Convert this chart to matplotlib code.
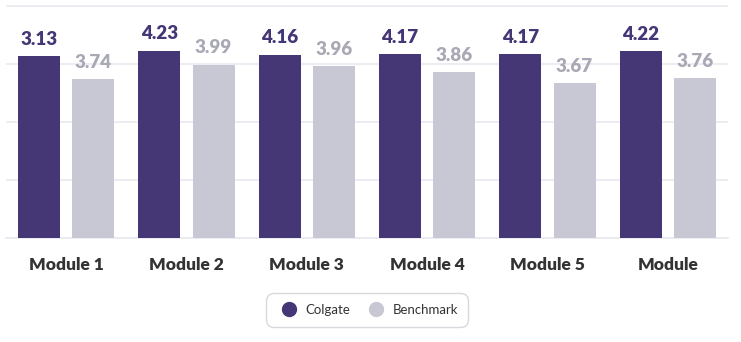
import matplotlib
matplotlib.use("Agg")
import matplotlib.pyplot as plt
import numpy as np
from matplotlib.lines import Line2D

plt.rcParams["font.family"] = ["Lato", "DejaVu Sans"]

# Data
modules = ["Module 1", "Module 2", "Module 3", "Module 4", "Module 5", "Module"]
colgate = [4.13, 4.23, 4.16, 4.17, 4.17, 4.22]
benchmark = [3.74, 3.99, 3.96, 3.86, 3.67, 3.76]
colgate_labels = ["3.13", "4.23", "4.16", "4.17", "4.17", "4.22"]
benchmark_labels = ["3.74", "3.99", "3.96", "3.86", "3.67", "3.76"]

COLGATE_C = "#453776"
BENCH_C = "#c8c8d4"
BENCH_TXT = "#a9a9b6"
GRID_C = "#e9e9f0"

fig = plt.figure(figsize=(7.41, 3.42), dpi=100)
ax = fig.add_axes([6 / 741, (342 - 238) / 342, 722 / 741, 234 / 342])

x = np.arange(len(modules))
w = 0.35
off = 0.225

b1 = ax.bar(x - off, colgate, width=w, color=COLGATE_C, zorder=3)
b2 = ax.bar(x + off, benchmark, width=w, color=BENCH_C, zorder=3)

for rect, lab in zip(b1, colgate_labels):
    ax.annotate(lab, (rect.get_x() + rect.get_width() / 2, rect.get_height()),
                xytext=(0, 6), textcoords="offset points", ha="center", va="bottom",
                fontsize=13.5, fontweight="heavy", color=COLGATE_C)
for rect, lab in zip(b2, benchmark_labels):
    ax.annotate(lab, (rect.get_x() + rect.get_width() / 2, rect.get_height()),
                xytext=(0, 6), textcoords="offset points", ha="center", va="bottom",
                fontsize=13.5, fontweight="heavy", color=BENCH_TXT)

ax.set_ylim(1, 5 + 2 / 58)
ax.set_xlim(-0.5, len(modules) - 0.5)
ax.set_yticks([1, 2, 3, 4, 5])
ax.yaxis.grid(True, color=GRID_C, linewidth=1.2, zorder=0)
ax.tick_params(axis="y", left=False, labelleft=False)
ax.tick_params(axis="x", length=0, pad=14)
ax.set_xticks(x)
ax.set_xticklabels(modules, fontsize=12.5, fontweight="heavy", color="#333333")
for s in ["left", "right", "top"]:
    ax.spines[s].set_visible(False)
ax.spines["bottom"].set_color(GRID_C)
ax.spines["bottom"].set_linewidth(1.2)
ax.set_axisbelow(True)

handles = [
    Line2D([], [], marker="o", linestyle="none", markersize=10, color=COLGATE_C),
    Line2D([], [], marker="o", linestyle="none", markersize=10, color=BENCH_C),
]
leg = fig.legend(handles, ["Colgate", "Benchmark"], loc="center",
                 bbox_to_anchor=(367 / 741, 1 - 310 / 342), ncol=2, frameon=True,
                 fontsize=9.5, handletextpad=0.2, columnspacing=1.0,
                 borderpad=0.8, fancybox=True)
frame = leg.get_frame()
frame.set_edgecolor("#cfcfd6")
frame.set_linewidth(1.0)
frame.set_boxstyle("round", pad=0, rounding_size=0.6)
for t in leg.get_texts():
    t.set_color("#333333")

fig.savefig("out.png", dpi=100)
